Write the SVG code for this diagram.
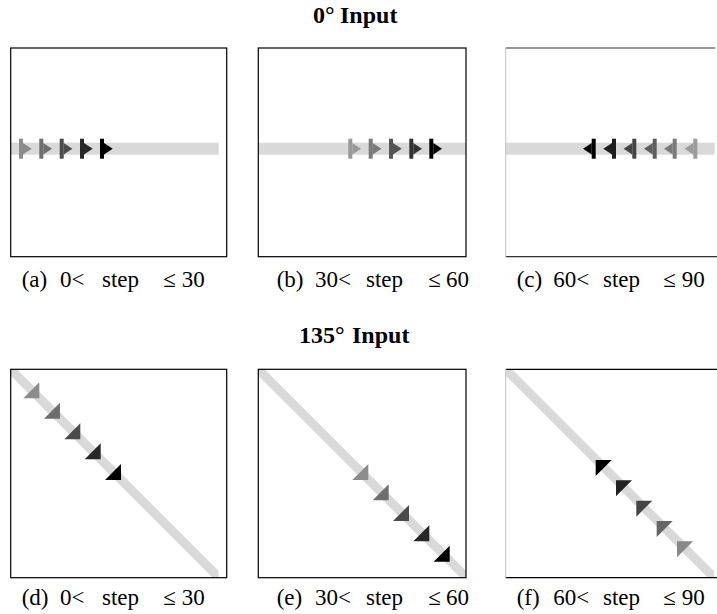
<svg xmlns="http://www.w3.org/2000/svg" width="717" height="614" viewBox="0 0 717 614">
<style>
.box{fill:none;stroke:#000;stroke-width:1.2}
.band{fill:#d9d9d9}
.dband{stroke:#d9d9d9;stroke-width:9;fill:none}
.title{font-family:"Liberation Serif",serif;font-weight:bold;font-size:24px;fill:#000}
.cap{font-family:"Liberation Serif",serif;font-size:23px;fill:#000}
</style>
<defs>
<g id="ar">
<rect x="0" y="-10" width="4" height="20"/>
<polygon points="4,-5.7 12.7,0 4,5.7"/>
</g>
<g id="al">
<rect x="-4" y="-10" width="4" height="20"/>
<polygon points="-4,-5.7 -12.7,0 -4,5.7"/>
</g>
<polygon id="dse" points="-16,16 0,0 0,16"/>
<polygon id="dnw" points="0,0 16,0 0,16"/>
<clipPath id="cd"><rect x="10.7" y="369.3" width="207.8" height="208.4"/></clipPath>
<clipPath id="ce"><rect x="258.3" y="369.3" width="207.7" height="208.4"/></clipPath>
<clipPath id="cf"><rect x="505.7" y="369.3" width="208.5" height="208.4"/></clipPath>
</defs>

<text id="title1" class="title" y="23"><tspan x="313">0°</tspan><tspan x="340">Input</tspan></text>
<text id="title2" class="title" y="343.3"><tspan x="299">135°</tspan><tspan x="352">Input</tspan></text>

<g id="panel-a">
<rect class="band" x="10.7" y="142.7" width="208" height="12"/>
<use href="#ar" x="19" y="148.7" fill="#8c8c8c"/>
<use href="#ar" x="39.3" y="148.7" fill="#6e6e6e"/>
<use href="#ar" x="59.7" y="148.7" fill="#4b4b4b"/>
<use href="#ar" x="80" y="148.7" fill="#282828"/>
<use href="#ar" x="100" y="148.7" fill="#000"/>
<rect class="box" x="10.7" y="48" width="216" height="208.7"/>
</g>

<g id="panel-b">
<rect class="band" x="258.3" y="142.7" width="207.7" height="12"/>
<use href="#ar" x="348.3" y="148.7" fill="#999"/>
<use href="#ar" x="368.7" y="148.7" fill="#7a7a7a"/>
<use href="#ar" x="389" y="148.7" fill="#555"/>
<use href="#ar" x="409.3" y="148.7" fill="#333"/>
<use href="#ar" x="429.3" y="148.7" fill="#000"/>
<rect class="box" x="258.3" y="48" width="207.7" height="208.7"/>
</g>

<g id="panel-c">
<rect class="band" x="505.7" y="142.7" width="209" height="12"/>
<use href="#al" x="595.7" y="148.7" fill="#000"/>
<use href="#al" x="616" y="148.7" fill="#1e1e1e"/>
<use href="#al" x="636.3" y="148.7" fill="#444"/>
<use href="#al" x="656.7" y="148.7" fill="#5e5e5e"/>
<use href="#al" x="676.7" y="148.7" fill="#7a7a7a"/>
<use href="#al" x="697.3" y="148.7" fill="#9a9a9a"/>
<line x1="505.7" y1="48" x2="715" y2="48" stroke="#333" stroke-width="1.2"/>
<line x1="505.7" y1="256.7" x2="717" y2="256.7" stroke="#333" stroke-width="1.2"/>
<line x1="505.7" y1="48" x2="505.7" y2="256.7" stroke="#c8c8c8" stroke-width="1.2"/>
</g>

<g id="panel-d">
<line class="dband" x1="5" y1="363.6" x2="224" y2="582.6" clip-path="url(#cd)"/>
<use href="#dse" x="39.3" y="382.3" fill="#8c8c8c"/>
<use href="#dse" x="60" y="402.7" fill="#6e6e6e"/>
<use href="#dse" x="80.3" y="423.3" fill="#4b4b4b"/>
<use href="#dse" x="100.7" y="443.3" fill="#282828"/>
<use href="#dse" x="121" y="464" fill="#000"/>
<rect class="box" x="10.7" y="369.3" width="216" height="208.4"/>
</g>

<g id="panel-e">
<line class="dband" x1="252.6" y1="363.6" x2="471.6" y2="582.6" clip-path="url(#ce)"/>
<use href="#dse" x="368.3" y="464" fill="#8c8c8c"/>
<use href="#dse" x="388.7" y="484.3" fill="#6e6e6e"/>
<use href="#dse" x="409" y="505" fill="#4b4b4b"/>
<use href="#dse" x="429.3" y="525.3" fill="#282828"/>
<use href="#dse" x="449.7" y="545.7" fill="#000"/>
<rect class="box" x="258.3" y="369.3" width="207.7" height="208.4"/>
</g>

<g id="panel-f">
<line class="dband" x1="500" y1="363.6" x2="719" y2="582.6" clip-path="url(#cf)"/>
<use href="#dnw" x="595.7" y="460" fill="#000"/>
<use href="#dnw" x="616" y="480.3" fill="#222"/>
<use href="#dnw" x="636.3" y="500.7" fill="#444"/>
<use href="#dnw" x="656.7" y="521" fill="#666"/>
<use href="#dnw" x="677" y="541.3" fill="#888"/>
<line x1="505.7" y1="369.3" x2="717" y2="369.3" stroke="#000" stroke-width="1.2"/>
<line x1="505.7" y1="577.7" x2="717" y2="577.7" stroke="#000" stroke-width="1.2"/>
<line x1="505.7" y1="369.3" x2="505.7" y2="577.7" stroke="#c8c8c8" stroke-width="1.2"/>
</g>

<g id="captions">
<text class="cap" y="287"><tspan x="21.7">(a)</tspan><tspan x="60">0&lt;</tspan><tspan x="102">step</tspan><tspan x="163.3">≤</tspan><tspan x="181.7">30</tspan></text>
<text class="cap" y="287"><tspan x="276.7">(b)</tspan><tspan x="315">30&lt;</tspan><tspan x="366">step</tspan><tspan x="428.3">≤</tspan><tspan x="446">60</tspan></text>
<text class="cap" y="287"><tspan x="516.7">(c)</tspan><tspan x="553.3">60&lt;</tspan><tspan x="603">step</tspan><tspan x="663.3">≤</tspan><tspan x="681.7">90</tspan></text>
<text class="cap" y="605"><tspan x="21.7">(d)</tspan><tspan x="60">0&lt;</tspan><tspan x="102">step</tspan><tspan x="163.3">≤</tspan><tspan x="181.7">30</tspan></text>
<text class="cap" y="605"><tspan x="276.7">(e)</tspan><tspan x="315">30&lt;</tspan><tspan x="366">step</tspan><tspan x="428.3">≤</tspan><tspan x="446">60</tspan></text>
<text class="cap" y="605"><tspan x="516.7">(f)</tspan><tspan x="553.3">60&lt;</tspan><tspan x="603">step</tspan><tspan x="663.3">≤</tspan><tspan x="681.7">90</tspan></text>
</g>
</svg>
